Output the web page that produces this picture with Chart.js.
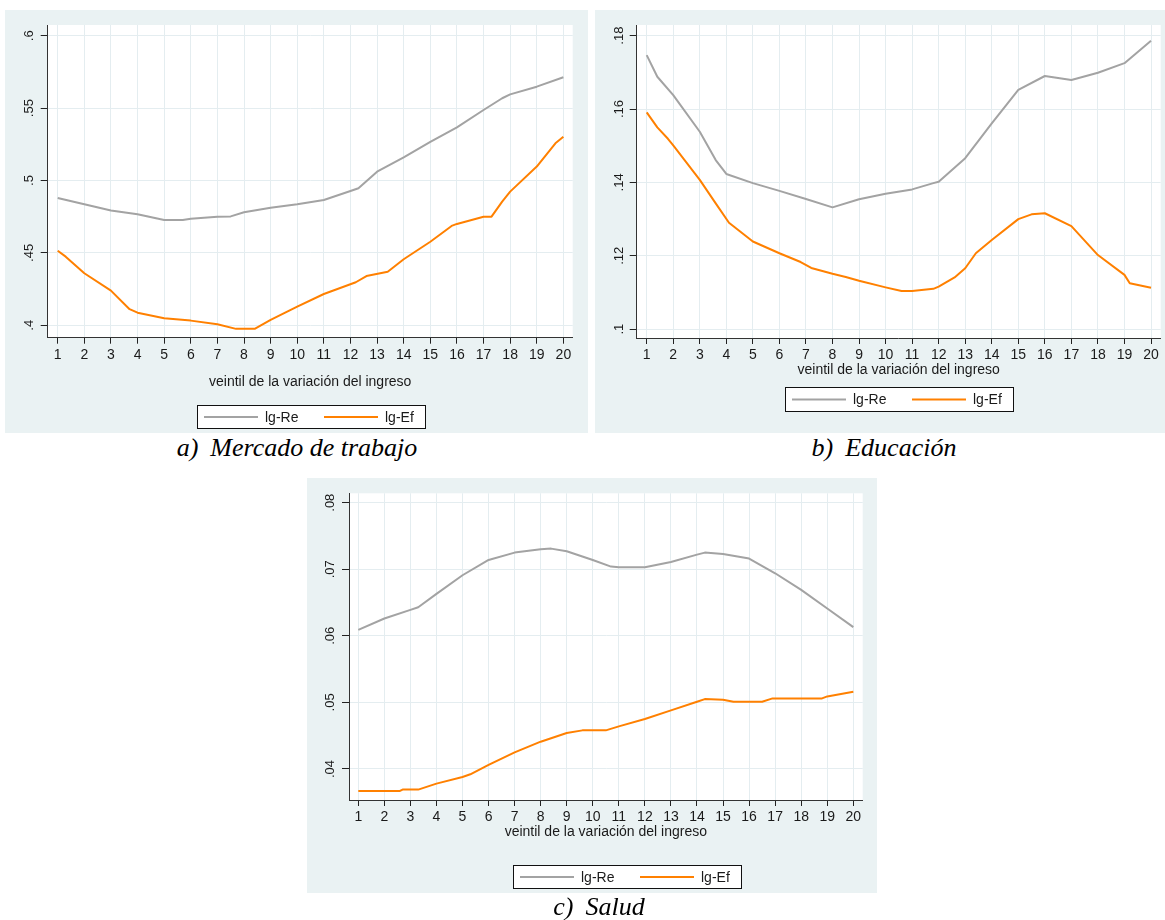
<!DOCTYPE html>
<html lang="es">
<head>
<meta charset="utf-8">
<title>lg-Re y lg-Ef por veintil de la variación del ingreso</title>
<script src="https://cdn.jsdelivr.net/npm/chart.js@4.4.1/dist/chart.umd.min.js"></script>
<style>
  html, body { margin: 0; padding: 0; background: #fff; }
  body { position: relative; width: 1165px; height: 920px; overflow: hidden; }
  .panel { position: absolute; background: #eaf2f3; }
  .panel canvas { display: block; }
  .caption {
    position: absolute;
    transform: translate(-50%, -50%);
    font-family: "Liberation Serif", "Times New Roman", serif;
    font-style: italic;
    font-size: 26px;
    color: #000;
    white-space: nowrap;
  }
  .caption b { font-weight: normal; margin-right: 12px; }
</style>
</head>
<body>

<div class="panel" style="left:5px;top:10px;width:583px;height:423px">
  <canvas id="trabajo" width="583" height="423"></canvas>
</div>
<div class="caption" style="left:297px;top:448px"><b>a)</b>Mercado de trabajo</div>

<div class="panel" style="left:595px;top:10px;width:570px;height:423px">
  <canvas id="educacion" width="570" height="423"></canvas>
</div>
<div class="caption" style="left:884px;top:448px"><b>b)</b>Educación</div>

<div class="panel" style="left:307px;top:478px;width:570px;height:415px">
  <canvas id="salud" width="570" height="415"></canvas>
</div>
<div class="caption" style="left:599px;top:907px"><b>c)</b>Salud</div>

<script>
// veintiles del eje x
const veintiles = [1, 2, 3, 4, 5, 6, 7, 8, 9, 10, 11, 12, 13, 14, 15, 16, 17, 18, 19, 20];
const serieNombres = ['lg-Re', 'lg-Ef'];

// a) Mercado de trabajo
const trabajoReX = [1, 2, 3, 4, 5, 5.7, 6, 7, 7.5, 8, 9, 10, 11, 12, 12.3, 13, 14, 15, 16, 17, 17.7, 18, 19, 20];
const trabajoRe  = [.4879, .4836, .4792, .4767, .4727, .4727, .4735, .4750, .4752, .4780, .4812, .4836, .4865, .4927, .4946, .5061, .5160, .5266, .5367, .5487, .5568, .5595, .5648, .5713];
const trabajoEfX = [1, 1.3, 2, 3, 3.7, 4, 5, 6, 7, 7.7, 8.4, 9, 10, 11, 12.2, 12.6, 13.4, 14, 15, 15.8, 16, 17, 17.3, 17.7, 18, 19, 19.7, 20];
const trabajoEf  = [.4515, .4474, .4359, .4239, .4111, .4087, .4048, .4032, .4007, .3975, .3975, .4037, .4129, .4216, .4297, .4340, .4370, .4456, .4577, .4686, .4700, .4750, .4750, .4854, .4923, .5096, .5257, .5302];
const trabajoTicks = [.4, .45, .5, .55, .6];

// b) Educación
const educReX = [1, 1.4, 2, 3, 3.6, 4, 5, 6, 7, 8, 9, 10, 11, 11.8, 12, 13, 14, 15, 16, 17, 18, 19, 20];
const educRe  = [.1747, .1688, .1638, .1538, .1461, .1423, .1398, .1377, .1355, .1332, .1354, .1369, .1381, .1398, .1402, .1466, .1561, .1652, .1690, .1679, .1699, .1725, .1786];
const educEfX = [1, 1.4, 1.8, 2, 3, 3.6, 4.1, 5, 6, 6.8, 7.2, 8, 8.5, 9, 10, 10.6, 11, 11.8, 12, 12.6, 13, 13.4, 14, 15, 15.5, 16, 17, 18, 19, 19.2, 20];
const educEf  = [.1591, .1550, .1519, .1501, .1407, .1343, .1290, .1239, .1207, .1183, .1167, .1151, .1142, .1132, .1114, .1104, .1104, .1110, .1116, .1141, .1166, .1207, .1243, .1300, .1313, .1316, .1281, .1202, .1148, .1125, .1113];
const educTicks = [.1, .12, .14, .16, .18];

// c) Salud
const saludReX = [1, 2, 3, 3.3, 4, 5, 6, 7, 8, 8.4, 9, 10, 10.7, 11, 12, 13, 14, 14.3, 15, 16, 17, 18, 19, 20];
const saludRe  = [.0609, .0626, .0639, .0643, .0663, .0691, .0714, .0725, .0730, .0731, .0727, .0714, .0704, .0703, .0703, .0711, .0722, .0725, .0723, .0716, .0694, .0669, .0641, .0613];
const saludEfX = [1, 2, 2.6, 2.7, 3, 3.3, 4, 5, 5.3, 6, 7, 8, 9, 9.6, 10, 10.5, 11, 12, 13, 14, 14.3, 15, 15.4, 16, 16.5, 16.9, 17, 18, 18.8, 19, 20];
const saludEf  = [.0367, .0367, .0367, .0369, .0369, .0369, .0378, .0388, .0392, .0406, .0425, .0441, .0454, .0458, .0458, .0458, .0464, .0475, .0488, .0501, .0505, .0504, .0501, .0501, .0501, .0506, .0506, .0506, .0506, .0509, .0516];
const saludTicks = [.04, .05, .06, .07, .08];

const colores = ['#a3a3a3', '#ff8000'];
const FUENTE = '"Liberation Sans", Arial, sans-serif';

// fondo blanco de la región del gráfico
const fondoPlot = {
    id: 'fondoPlot',
    beforeDraw(chart) {
        const a = chart.chartArea;
        const ctx = chart.ctx;
        ctx.save();
        ctx.fillStyle = '#ffffff';
        ctx.fillRect(a.left, a.top, a.right - a.left, a.bottom - a.top);
        ctx.restore();
    }
};

// leyenda con recuadro, como en Stata
const leyendaCaja = {
    id: 'leyendaCaja',
    afterDraw(chart, args, opts) {
        const ctx = chart.ctx;
        const left = Math.round(opts.cx - opts.w / 2);
        const top = Math.round(opts.top);
        ctx.save();
        ctx.fillStyle = '#ffffff';
        ctx.fillRect(left, top, opts.w, opts.h);
        ctx.strokeStyle = '#111';
        ctx.lineWidth = 1;
        ctx.strokeRect(left + 0.5, top + 0.5, opts.w, opts.h);
        const cy = top + opts.h / 2 + 0.5;
        ctx.font = '14px ' + FUENTE;
        ctx.textBaseline = 'middle';
        chart.data.datasets.forEach((ds, i) => {
            const x0 = left + 7 + i * 120;
            ctx.strokeStyle = ds.borderColor;
            ctx.lineWidth = 2;
            ctx.beginPath();
            ctx.moveTo(x0, cy);
            ctx.lineTo(x0 + 54, cy);
            ctx.stroke();
            ctx.fillStyle = '#1a1a1a';
            ctx.fillText(ds.label, x0 + 61, cy + 1);
        });
        ctx.restore();
    }
};

function puntos(xs, ys) {
    return xs.map((x, i) => ({ x: x, y: ys[i] }));
}

function etiquetaY(v) {
    return v.toFixed(2).replace(/0+$/, '').replace(/^0/, '');
}

function grafico(id, p) {
    return new Chart(document.getElementById(id), {
        type: 'line',
        data: {
            datasets: [
                { label: serieNombres[0], data: puntos(p.reX, p.re), borderColor: colores[0] },
                { label: serieNombres[1], data: puntos(p.efX, p.ef), borderColor: colores[1] }
            ]
        },
        options: {
            responsive: false,
            animation: false,
            events: [],
            layout: {
                autoPadding: false,
                padding: { left: 0, top: p.top, right: p.right, bottom: p.bottom }
            },
            elements: {
                point: { radius: 0 },
                line: { borderWidth: 2, tension: 0, borderJoinStyle: 'round', fill: false }
            },
            scales: {
                x: {
                    type: 'linear',
                    min: p.xMin,
                    max: p.xMax,
                    afterBuildTicks: s => { s.ticks = veintiles.map(v => ({ value: v })); },
                    afterFit: s => { s.height = p.xH; },
                    grid: { color: '#e4edf0', lineWidth: 1, tickLength: 6, tickColor: '#222', drawTicks: true },
                    border: { display: true, color: '#333', width: 1 },
                    ticks: {
                        autoSkip: false, maxRotation: 0, padding: 3,
                        color: '#1a1a1a', font: { family: FUENTE, size: 14 },
                        callback: v => String(v)
                    },
                    title: {
                        display: true,
                        text: 'veintil de la variación del ingreso',
                        color: '#1a1a1a',
                        font: { family: FUENTE, size: 14 },
                        padding: { top: 0, bottom: 0 }
                    }
                },
                y: {
                    type: 'linear',
                    min: p.yMin,
                    max: p.yMax,
                    afterBuildTicks: s => { s.ticks = p.yTicks.map(v => ({ value: v })); },
                    afterFit: s => { s.width = p.left; },
                    grid: { color: '#e4edf0', lineWidth: 1, tickLength: 7, tickColor: '#222', drawTicks: true },
                    border: { display: true, color: '#333', width: 1 },
                    ticks: {
                        minRotation: 90, maxRotation: 90,
                        crossAlign: 'center', padding: p.yPad,
                        color: '#1a1a1a', font: { family: FUENTE, size: 13 },
                        callback: v => etiquetaY(v)
                    }
                }
            },
            plugins: {
                legend: { display: false },
                tooltip: { enabled: false },
                leyendaCaja: p.leyenda
            }
        },
        plugins: [fondoPlot, leyendaCaja]
    });
}

grafico('trabajo', {
    reX: trabajoReX, re: trabajoRe, efX: trabajoEfX, ef: trabajoEf, yTicks: trabajoTicks,
    xMin: 0.624, xMax: 20.35, yMin: 0.3914, yMax: 0.6074,
    left: 42.7, top: 15, right: 15.3, bottom: 42.1, xH: 53.2, yPad: 2,
    leyenda: { cx: 305.5, top: 395, w: 228, h: 23 }
});

grafico('educacion', {
    reX: educReX, re: educRe, efX: educEfX, ef: educEf, yTicks: educTicks,
    xMin: 0.623, xMax: 20.365, yMin: 0.0976, yMax: 0.1829,
    left: 41.7, top: 15, right: 4.3, bottom: 54.1, xH: 40.9, yPad: 1,
    leyenda: { cx: 303.5, top: 377, w: 228, h: 24 }
});

grafico('salud', {
    reX: saludReX, re: saludRe, efX: saludEfX, ef: saludEf, yTicks: saludTicks,
    xMin: 0.643, xMax: 20.36, yMin: 0.03534, yMax: 0.08141,
    left: 42, top: 15.3, right: 14.3, bottom: 52.3, xH: 40.7, yPad: 3,
    leyenda: { cx: 320, top: 387, w: 228, h: 23 }
});
</script>
</body>
</html>
